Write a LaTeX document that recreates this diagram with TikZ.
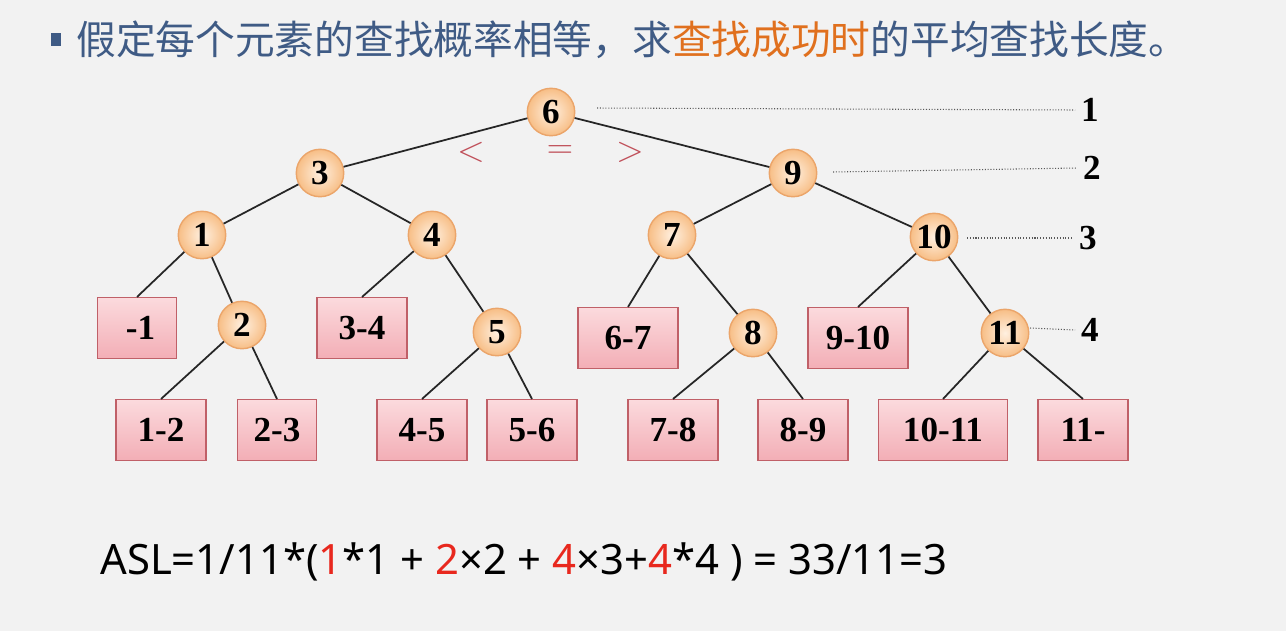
\documentclass[tikz,border=0pt]{standalone}
\usepackage{fontspec}
\setmainfont{Liberation Serif}
\newfontfamily\cjkfont{Noto Sans CJK SC}
\newfontfamily\formulafont{Noto Sans}
\usepackage{tikz}
\usetikzlibrary{positioning}

\definecolor{bgcol}{HTML}{F2F2F2}
\definecolor{titleblue}{HTML}{3F5B85}
\definecolor{titleorange}{HTML}{E0701E}
\definecolor{nodeedge}{HTML}{EBA56A}
\definecolor{nodein}{HTML}{FFF0E0}
\definecolor{nodeout}{HTML}{F7BE86}
\definecolor{boxedge}{HTML}{C06068}
\definecolor{boxtop}{HTML}{FBDADD}
\definecolor{boxbot}{HTML}{F3AEB6}
\definecolor{signred}{HTML}{C0505A}
\definecolor{aslred}{HTML}{E8281E}

\begin{document}
\begin{tikzpicture}[
    x=0.2mm, y=-0.2mm,
    key/.style={circle, draw=nodeedge, line width=0.8pt, inner color=nodein, outer color=nodeout,
        minimum size=27pt, inner sep=0pt, font=\fontsize{20}{22}\selectfont\bfseries},
    gap/.style={rectangle, draw=boxedge, line width=0.8pt, top color=boxtop, bottom color=boxbot,
        minimum height=34.5pt, inner sep=0pt, font=\fontsize{20}{22}\selectfont\bfseries},
    level/.style={font=\fontsize{20}{22}\selectfont\bfseries},
    guide/.style={densely dotted, gray!70!black, line width=0.6pt},
    edge/.style={line width=1pt, black!85},
    sign/.style={text=signred, inner sep=0pt, font=\fontsize{20}{22}\selectfont}
]
    \fill[bgcol] (0,0) rectangle (1286,631);

    % title
    \fill[titleblue] (51,33) rectangle (61,46);
    \node[anchor=west, inner sep=0pt, font=\cjkfont\fontsize{22.6}{24}\selectfont, text=titleblue] (title) at (76,40)
        {假定每个元素的查找概率相等，求\textcolor{titleorange}{查找成功时}的平均查找长度。};

    % keys
    \node[key] (k6) at (551,112) {6};
    \node[key] (k3) at (320,173) {3};
    \node[key] (k9) at (793,173) {9};
    \node[key] (k1) at (202,235) {1};
    \node[key] (k4) at (432,235) {4};
    \node[key] (k7) at (672,235) {7};
    \node[key] (k10) at (934,237) {10};
    \node[key] (k2) at (242,325) {2};
    \node[key] (k5) at (497,332) {5};
    \node[key] (k8) at (753,333) {8};
    \node[key] (k11) at (1005,333) {11};

    % failure boxes
    \node[gap, minimum width=45pt] (g01) at (137,328) {\hspace{4pt}-1};
    \node[gap, minimum width=51pt] (g34) at (362,328) {3-4};
    \node[gap, minimum width=56.7pt] (g67) at (628,338) {6-7};
    \node[gap, minimum width=56.7pt] (g910) at (858,338) {9-10};
    \node[gap, minimum width=51pt] (g12) at (161,430) {1-2};
    \node[gap, minimum width=45pt] (g23) at (277,430) {2-3};
    \node[gap, minimum width=51pt] (g45) at (422,430) {4-5};
    \node[gap, minimum width=51pt] (g56) at (532,430) {5-6};
    \node[gap, minimum width=51pt] (g78) at (673,430) {7-8};
    \node[gap, minimum width=51pt] (g89) at (803,430) {8-9};
    \node[gap, minimum width=73.7pt] (g1011) at (943,430) {10-11};
    \node[gap, minimum width=51pt] (g11e) at (1083,430) {11-\hspace{4pt}};

    % tree edges
    \draw[edge] (k6) -- (k3);
    \draw[edge] (k6) -- (k9);
    \draw[edge] (k3) -- (k1);
    \draw[edge] (k3) -- (k4);
    \draw[edge] (k9) -- (k7);
    \draw[edge] (k9) -- (k10);
    \draw[edge] (k1) -- (g01.north);
    \draw[edge] (k1) -- (k2);
    \draw[edge] (k4) -- (g34.north);
    \draw[edge] (k4) -- (k5);
    \draw[edge] (k7) -- (g67.north);
    \draw[edge] (k7) -- (k8);
    \draw[edge] (k10) -- (g910.north);
    \draw[edge] (k10) -- (k11);
    \draw[edge] (k2) -- (g12.north);
    \draw[edge] (k2) -- (g23.north);
    \draw[edge] (k5) -- (g45.north);
    \draw[edge] (k5) -- (g56.north);
    \draw[edge] (k8) -- (g78.north);
    \draw[edge] (k8) -- (g89.north);
    \draw[edge] (k11) -- (g1011.north);
    \draw[edge] (k11) -- (g11e.north);

    % comparison signs
    \node[sign] (lt) at (471,152) {$<$};
    \node[sign] (eq) at (560,152) {$=$};
    \node[sign] (gt) at (630,152) {$>$};

    % levels
    \node[level] (lv1) at (1090,110) {1};
    \node[level] (lv2) at (1092,168) {2};
    \node[level] (lv3) at (1088,238) {3};
    \node[level] (lv4) at (1090,330) {4};
    \coordinate (d1) at (597,108);
    \coordinate (d2) at (833,172);
    \coordinate (d3) at (967,238);
    \coordinate (d4) at (1030,328);
    \draw[guide] (d1) -- (lv1.west);
    \draw[guide] (d2) -- (lv2.west);
    \draw[guide] (d3) -- (lv3.west);
    \draw[guide] (d4) -- (lv4.west);

    % ASL
    \node[anchor=west, inner sep=0pt, font=\formulafont\fontsize{23.8}{28}\selectfont] (asl) at (100,562)
        {ASL=1/11*(\textcolor{aslred}{1}*1 + \textcolor{aslred}{2}×2 + \textcolor{aslred}{4}×3+\textcolor{aslred}{4}*4 ) = 33/11=3};
\end{tikzpicture}
\end{document}
